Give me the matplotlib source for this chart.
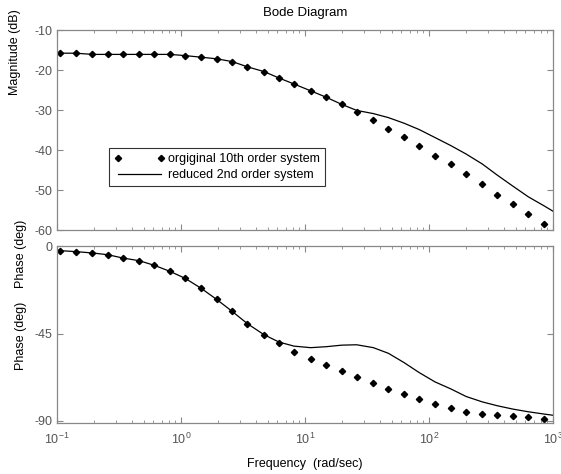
import matplotlib
matplotlib.use("Agg")
import matplotlib.pyplot as plt
from matplotlib.ticker import LogLocator, NullFormatter, FixedLocator

plt.rcParams['font.family'] = ['Liberation Sans', 'DejaVu Sans']
plt.rcParams['mathtext.fontset'] = 'custom'
plt.rcParams['mathtext.rm'] = 'Liberation Sans'
plt.rcParams['mathtext.it'] = 'Liberation Sans'
plt.rcParams['axes.unicode_minus'] = False

# frequencies (rad/sec) of the 10th order samples
w_orig = [0.106, 0.142, 0.193, 0.257, 0.339, 0.461, 0.610, 0.815, 1.08, 1.45,
          1.94, 2.59, 3.43, 4.67, 6.17, 8.15, 11.1, 14.8, 19.8, 26.1,
          35.6, 47.0, 62.9, 83.5, 112, 150, 199, 269, 356, 473, 632, 851]
mag_orig = [-15.8, -15.8, -16.1, -16.1, -16.1, -16.1, -16.1, -16.1, -16.4, -16.8,
            -17.2, -17.9, -19.2, -20.4, -22.0, -23.5, -25.2, -26.8, -28.6, -30.4,
            -32.6, -34.8, -36.8, -39.0, -41.4, -43.6, -46.0, -48.4, -51.2, -53.6,
            -56.1, -58.6]
ph_orig = [-2.2, -2.7, -3.4, -4.3, -6.0, -7.4, -9.8, -12.9, -16.5, -21.6,
           -27.4, -33.6, -39.9, -45.6, -49.9, -54.5, -58.3, -61.4, -64.5, -67.4,
           -70.8, -73.9, -76.3, -79.0, -81.4, -83.3, -85.4, -86.4, -87.1, -87.6,
           -88.3, -89.0]

# reduced 2nd order curve
w_red = [0.1, 0.106, 0.142, 0.193, 0.257, 0.339, 0.461, 0.610, 0.815, 1.08, 1.45,
         1.94, 2.59, 3.43, 4.67, 6.17, 8.15, 11.1, 14.8, 19.8, 26.1,
         35.6, 47.0, 62.9, 83.5, 112, 150, 199, 269, 356, 473, 632, 851, 1000]
mag_red = [-15.8, -15.8, -15.8, -16.1, -16.1, -16.1, -16.1, -16.1, -16.1, -16.4, -16.8,
           -17.2, -17.9, -19.2, -20.4, -22.0, -23.5, -25.2, -26.8, -28.6, -30.1,
           -30.9, -31.9, -33.3, -34.9, -36.9, -38.9, -41.0, -43.5, -46.3, -49.0,
           -51.7, -54.0, -55.3]
ph_red = [-2.0, -2.2, -2.7, -3.4, -4.3, -6.0, -7.4, -9.8, -12.9, -16.5, -21.6,
          -27.4, -33.6, -39.9, -45.6, -49.4, -51.5, -52.3, -51.8, -51.0, -50.8,
          -52.3, -55.2, -60.0, -65.2, -70.0, -73.6, -77.5, -80.3, -82.3, -84.0,
          -85.4, -86.6, -87.2]

mag_ticks = [-60, -50, -40, -30, -20, -10]
ph_ticks = [-90, -45, 0]
labels = ['orgiginal 10th order system', 'reduced 2nd order system']

fs = 9
fig = plt.figure(figsize=(5.61, 4.74), dpi=100)
ax1 = fig.add_axes([57 / 561, 1 - 230 / 474, 496 / 561, 200 / 474])
ax2 = fig.add_axes([57 / 561, 1 - 423 / 474, 496 / 561, 177 / 474])

edge = '#888888'
tcol = '#555555'
for ax in (ax1, ax2):
    ax.set_xscale('log')
    ax.set_xlim(0.1, 1000)
    ax.xaxis.set_major_locator(LogLocator(base=10, numticks=10))
    ax.xaxis.set_minor_locator(LogLocator(base=10, subs=range(2, 10), numticks=10))
    ax.xaxis.set_minor_formatter(NullFormatter())
    ax.tick_params(which='both', direction='in', top=True, right=True,
                   color=edge, labelcolor=tcol, labelsize=fs)
    ax.tick_params(which='major', length=4)
    ax.tick_params(which='minor', length=2.5)
    ax.tick_params(axis='x', pad=6)
    for s in ax.spines.values():
        s.set_color(edge)
        s.set_linewidth(0.9)

ax1.plot(w_orig, mag_orig, linestyle='none', marker='D', markersize=3.2,
         color='black', label=labels[0])
ax1.plot(w_red, mag_red, color='black', linewidth=0.9, label=labels[1])
ax1.set_ylim(-60, -10)
ax1.yaxis.set_major_locator(FixedLocator(mag_ticks))
ax1.tick_params(axis='x', labelbottom=False)
ax1.set_title('Bode Diagram', fontsize=fs + 0.5, pad=10)
ax1.text(-0.085, 0.89, 'Magnitude (dB)', transform=ax1.transAxes, rotation=90,
         ha='center', va='center', fontsize=fs)

leg = ax1.legend(loc='upper left', bbox_to_anchor=(0.093, 0.44), numpoints=2,
                 handlelength=4.0, fontsize=fs, frameon=True, fancybox=False,
                 borderpad=0.4, labelspacing=0.3, handletextpad=0.3)
leg.get_frame().set_edgecolor('black')
leg.get_frame().set_linewidth(0.8)

ax2.plot(w_orig, ph_orig, linestyle='none', marker='D', markersize=3.2, color='black')
ax2.plot(w_red, ph_red, color='black', linewidth=0.9)
ax2.set_ylim(-91.2, 0.2)
ax2.yaxis.set_major_locator(FixedLocator(ph_ticks))
ax2.set_xlabel('Frequency  (rad/sec)', fontsize=fs, labelpad=8)
ax2.text(-0.072, 0.49, 'Phase (deg)', transform=ax2.transAxes, rotation=90,
         ha='center', va='center', fontsize=fs)
ax2.text(-0.072, 0.955, 'Phase (deg)', transform=ax2.transAxes, rotation=90,
         ha='center', va='center', fontsize=fs, clip_on=False)

fig.savefig('out.png', dpi=100)
